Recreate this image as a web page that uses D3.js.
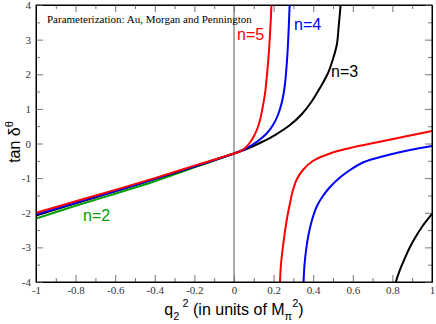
<!DOCTYPE html>
<html>
<head>
<meta charset="utf-8">
<script src="https://cdn.jsdelivr.net/npm/d3@7"></script>
<style>
  html, body { margin: 0; padding: 0; background: #fff; }
  svg { display: block; }
</style>
</head>
<body>
<svg id="chart" width="436" height="324"></svg>
<script>
// ---- data ----
const xTicks = [-1, -0.8, -0.6, -0.4, -0.2, 0, 0.2, 0.4, 0.6, 0.8, 1];
const xTickLabels = ["-1", "-0.8", "-0.6", "-0.4", "-0.2", "0", "0.2", "0.4", "0.6", "0.8", "1"];
const yTicks = [-4, -3, -2, -1, 0, 1, 2, 3, 4];
const yTickLabels = ["-4", "-3", "-2", "-1", "0", "1", "2", "3", "4"];

// n=2 (green)
const n2X = [-1, -0.8, -0.6, -0.4, -0.2, 0];
const n2Y = [-2.17, -1.80, -1.45, -1.09, -0.69, -0.29];

// n=3 (black): branch 1 and branch 2
const n3aX = [-1, -0.8, -0.6, -0.4, -0.2, 0, 0.081, 0.141, 0.207, 0.283, 0.343, 0.394, 0.434, 0.475, 0.5, 0.52, 0.528, 0.535, 0.54];
const n3aY = [-2.08, -1.73, -1.38, -1.03, -0.67, -0.29, -0.116, 0.043, 0.245, 0.534, 0.852, 1.227, 1.603, 2.036, 2.44, 2.874, 3.336, 3.769, 4.144];
const n3bX = [0.816, 0.818, 0.838, 0.859, 0.884, 0.914, 0.949, 1.0];
const n3bY = [-4.231, -4.0, -3.653, -3.365, -3.047, -2.729, -2.412, -2.036];

// n=4 (blue)
const n4aX = [-1, -0.8, -0.6, -0.4, -0.2, 0, 0.045, 0.091, 0.131, 0.167, 0.197, 0.222, 0.242, 0.255, 0.264, 0.271, 0.276, 0.28, 0.282];
const n4aY = [-2.05, -1.71, -1.37, -1.02, -0.66, -0.29, -0.188, -0.043, 0.116, 0.303, 0.534, 0.823, 1.199, 1.603, 2.123, 2.7, 3.278, 3.856, 4.144];
const n4bX = [0.35, 0.351, 0.356, 0.364, 0.376, 0.394, 0.419, 0.449, 0.485, 0.535, 0.586, 0.646, 0.712, 0.788, 0.889, 1.0];
const n4bY = [-4.231, -4.029, -3.509, -3.076, -2.643, -2.209, -1.805, -1.516, -1.256, -0.982, -0.765, -0.563, -0.433, -0.318, -0.188, -0.072];

// n=5 (red)
const n5aX = [-1, -0.8, -0.6, -0.4, -0.2, 0, 0.03, 0.056, 0.081, 0.101, 0.119, 0.134, 0.146, 0.157, 0.165, 0.172, 0.178, 0.183, 0.187, 0.19];
const n5aY = [-2.00, -1.67, -1.34, -1.00, -0.64, -0.29, -0.231, -0.13, 0.029, 0.217, 0.448, 0.736, 1.083, 1.458, 1.892, 2.325, 2.787, 3.278, 3.711, 4.144];
const n5bX = [0.2305, 0.232, 0.237, 0.245, 0.255, 0.268, 0.283, 0.298, 0.318, 0.348, 0.398, 0.485, 0.586, 0.737, 0.864, 1.0];
const n5bY = [-4.3, -4.029, -3.509, -3.076, -2.643, -2.152, -1.718, -1.343, -1.025, -0.765, -0.505, -0.289, -0.13, 0.052, 0.202, 0.361];

const seriesList = [
  { name: "n=2", color: "#00a000", branches: [[n2X, n2Y]] },
  { name: "n=3", color: "#000000", branches: [[n3aX, n3aY], [n3bX, n3bY]] },
  { name: "n=4", color: "#0000ff", branches: [[n4aX, n4aY], [n4bX, n4bY]] },
  { name: "n=5", color: "#ff0000", branches: [[n5aX, n5aY], [n5bX, n5bY]] }
];

// ---- layout ----
const L = 36, R = 432, T = 5, B = 282;
const svg = d3.select("#chart");
const x = d3.scaleLinear().domain([-1, 1]).range([L, R]);
const y = d3.scaleLinear().domain([-4, 4]).range([B, T]);

const serif = "'Liberation Serif','Times New Roman',serif";
const sans = "'Liberation Sans',Arial,sans-serif";

svg.append("defs").append("clipPath").attr("id", "clip")
  .append("rect").attr("x", L).attr("y", T).attr("width", R - L).attr("height", B - T);

// zero line
svg.append("line")
  .attr("x1", x(0)).attr("x2", x(0)).attr("y1", T).attr("y2", B)
  .attr("stroke", "#555").attr("stroke-width", 1);

// minor ticks
const xMinor = d3.range(-10, 11).map(d => d / 10).filter(v => Math.abs(Math.round(v * 5) - v * 5) > 1e-6);
const yMinor = d3.range(-8, 9).map(d => d / 2).filter(v => Math.abs(v - Math.round(v)) > 1e-6);

function styleAxis(g) {
  g.selectAll("path.domain").attr("stroke", "#000").attr("stroke-width", 1);
  g.selectAll(".tick line").attr("stroke", "#777").attr("stroke-width", 1);
  g.selectAll("text").attr("font-family", serif).attr("font-size", 11).attr("fill", "#333");
}
function minor(g) {
  g.select("path.domain").remove();
  g.selectAll(".tick line").attr("stroke", "#777");
}

// bottom axis
const gB = svg.append("g").attr("transform", `translate(0,${B})`)
  .call(d3.axisBottom(x).tickValues(xTicks).tickFormat((d, i) => xTickLabels[i])
    .tickSizeInner(-7).tickSizeOuter(0).tickPadding(4));
styleAxis(gB);
gB.selectAll("text").attr("dy", "0.71em").attr("y", 4);
svg.append("g").attr("transform", `translate(0,${B})`)
  .call(d3.axisBottom(x).tickValues(xMinor).tickFormat("").tickSizeInner(-4).tickSizeOuter(0))
  .call(minor);

// top axis
const gT = svg.append("g").attr("transform", `translate(0,${T})`)
  .call(d3.axisTop(x).tickValues(xTicks).tickFormat("").tickSizeInner(-7).tickSizeOuter(0));
styleAxis(gT);
svg.append("g").attr("transform", `translate(0,${T})`)
  .call(d3.axisTop(x).tickValues(xMinor).tickFormat("").tickSizeInner(-4).tickSizeOuter(0))
  .call(minor);

// left axis
const gL = svg.append("g").attr("transform", `translate(${L},0)`)
  .call(d3.axisLeft(y).tickValues(yTicks).tickFormat((d, i) => yTickLabels[i])
    .tickSizeInner(-7).tickSizeOuter(0).tickPadding(5));
styleAxis(gL);
svg.append("g").attr("transform", `translate(${L},0)`)
  .call(d3.axisLeft(y).tickValues(yMinor).tickFormat("").tickSizeInner(-4).tickSizeOuter(0))
  .call(minor);

// right axis
const gR = svg.append("g").attr("transform", `translate(${R},0)`)
  .call(d3.axisRight(y).tickValues(yTicks).tickFormat("").tickSizeInner(-7).tickSizeOuter(0));
styleAxis(gR);
svg.append("g").attr("transform", `translate(${R},0)`)
  .call(d3.axisRight(y).tickValues(yMinor).tickFormat("").tickSizeInner(-4).tickSizeOuter(0))
  .call(minor);

// curves
const line = d3.line().x(d => x(d[0])).y(d => y(d[1])).curve(d3.curveCatmullRom.alpha(0.5));
const gC = svg.append("g").attr("clip-path", "url(#clip)");
seriesList.forEach(s => {
  s.branches.forEach(([xs, ys]) => {
    gC.append("path")
      .datum(xs.map((v, i) => [v, ys[i]]))
      .attr("d", line)
      .attr("fill", "none")
      .attr("stroke", s.color)
      .attr("stroke-width", 2)
      .attr("stroke-linejoin", "round");
  });
});

// frame
svg.append("rect").attr("x", L).attr("y", T).attr("width", R - L).attr("height", B - T)
  .attr("fill", "none").attr("stroke", "#000").attr("stroke-width", 1);

// curve labels
const labels = [
  { t: "n=5", c: "#ff0000", px: 237, py: 40 },
  { t: "n=4", c: "#0000ff", px: 294, py: 30 },
  { t: "n=3", c: "#000000", px: 331, py: 77 },
  { t: "n=2", c: "#00a000", px: 83, py: 221 }
];
labels.forEach(l => {
  svg.append("text").attr("x", l.px).attr("y", l.py).text(l.t)
    .attr("font-family", sans).attr("font-size", 16).attr("fill", l.c);
});

// annotation
svg.append("text").attr("x", 47).attr("y", 23)
  .attr("font-family", serif).attr("font-size", 11).attr("fill", "#000")
  .text("Parameterization: Au, Morgan and Pennington");

// y-axis title: tan δ^θ
const yt = svg.append("text")
  .attr("transform", "translate(20,142) rotate(-90)")
  .attr("text-anchor", "middle")
  .attr("font-family", sans).attr("font-size", 16).attr("fill", "#000");
yt.append("tspan").text("tan δ");
yt.append("tspan").attr("dy", -7).attr("font-size", 11).text("θ");

// x-axis title: q_2^2 (in units of M_π^2)
const xt = svg.append("text")
  .attr("x", 234).attr("y", 315)
  .attr("text-anchor", "middle")
  .attr("font-family", sans).attr("font-size", 16).attr("fill", "#000");
xt.append("tspan").text("q");
xt.append("tspan").attr("dy", 5).attr("font-size", 11).text("2");
xt.append("tspan").attr("dy", -13).attr("font-size", 11).text(" 2");
xt.append("tspan").attr("dy", 8).text(" (in units of M");
xt.append("tspan").attr("dy", 5).attr("font-size", 11).text("π");
xt.append("tspan").attr("dy", -13).attr("font-size", 11).text("2");
xt.append("tspan").attr("dy", 8).text(")");
</script>
</body>
</html>
